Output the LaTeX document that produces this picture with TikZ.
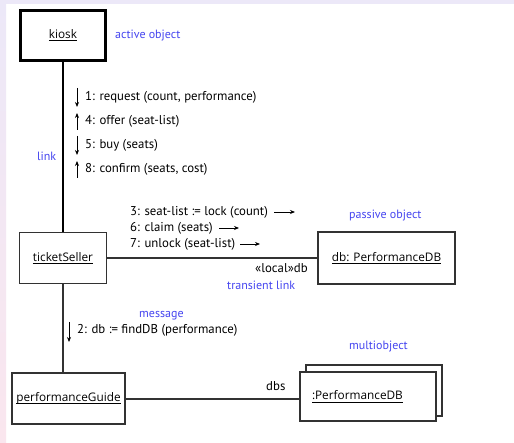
\documentclass[tikz,border=0pt]{standalone}
\usepackage{fontspec}
\setmainfont{PT Sans}
\newfontfamily\objfont{Open Sans}
\usetikzlibrary{arrows.meta}
\definecolor{lav}{RGB}{236,232,248}
\definecolor{pinkbg}{RGB}{250,230,238}
\definecolor{note}{RGB}{70,70,240}
\definecolor{linec}{RGB}{50,50,50}
\newcommand{\ulx}[1]{\setbox0\hbox{#1}\rlap{\rule[-2.8pt]{\wd0}{0.9pt}}\box0}
\begin{document}
\begin{tikzpicture}[x=1pt,y=-1pt,
  obj/.style={draw=linec, line width=1.3pt, fill=white, rectangle, inner sep=0pt, font=\objfont\fontsize{11.8}{13}\selectfont},
  lnk/.style={draw=linec, line width=1.1pt},
  msg/.style={inner sep=0pt, anchor=west, font=\fontsize{12.8}{14}\selectfont},
  notetxt/.style={inner sep=0pt, anchor=west, text=note, font=\fontsize{12}{14}\selectfont},
  arr/.style={draw=black, line width=0.8pt, -{Stealth[length=5pt,width=4pt]}}
]
\useasboundingbox (0,0) rectangle (514,443);
\fill[white] (0,0) rectangle (514,443);
\fill[lav] (0,0) rectangle (514,4);
\shade[top color=lav, bottom color=pinkbg] (0,0) rectangle (6,443);

% objects
\node[obj, draw=black, line width=3.3pt, minimum width=85pt, minimum height=50pt] (kiosk) at (63,35.5) {\ulx{kiosk}};
\node[obj, minimum width=87pt, minimum height=51pt] (ts) at (63,258) {\ulx{ticketSeller}};
\node[obj, minimum width=137pt, minimum height=52pt] (db) at (386.5,258) {\ulx{db: PerformanceDB}};
\node[obj, minimum width=113pt, minimum height=51pt] (pg) at (68.5,398.5) {\ulx{performanceGuide}};
\node[obj, minimum width=136pt, minimum height=51pt] (mback) at (374,390.5) {};
\node[obj, minimum width=136pt, minimum height=49pt] (mdb) at (368,396.5) {\makebox[112pt][l]{\ulx{:PerformanceDB}}};

% links
\draw[draw=black, line width=2.7pt] (kiosk.south) -- (ts.north);
\draw[lnk] (ts.east) -- (db.west);
\draw[lnk] (ts.south) -- (ts.south |- pg.north);
\draw[lnk] (pg.east |- 0,399) -- (mdb.west |- 0,399);

% messages kiosk-ticketSeller
\node[msg] (m1) at (85,97) {1: request (count, performance)};
\node[msg] (m4) at (85,121) {4: offer (seat-list)};
\node[msg] (m5) at (85,145) {5: buy (seats)};
\node[msg] (m8) at (85,169) {8: confirm (seats, cost)};
\draw[arr] ([xshift=-8pt,yshift=9pt]m1.west) -- ([xshift=-8pt,yshift=-10pt]m1.west);
\draw[arr] ([xshift=-8pt,yshift=-9pt]m4.west) -- ([xshift=-8pt,yshift=8pt]m4.west);
\draw[arr] ([xshift=-8pt,yshift=9pt]m5.west) -- ([xshift=-8pt,yshift=-10pt]m5.west);
\draw[arr] ([xshift=-8pt,yshift=-9pt]m8.west) -- ([xshift=-8pt,yshift=8pt]m8.west);

% messages ticketSeller-db
\node[msg] (m3) at (130,212) {3: seat-list := lock (count)};
\node[msg] (m6) at (130,228) {6: claim (seats)};
\node[msg] (m7) at (130,244) {7: unlock (seat-list)};
\draw[arr] ([xshift=144pt]m3.west) -- ([xshift=165pt]m3.west);
\draw[arr] ([xshift=89pt]m6.west) -- ([xshift=109pt]m6.west);
\draw[arr] ([xshift=110pt]m7.west) -- ([xshift=130pt]m7.west);

% message 2
\node[msg] (m2) at (77,330) {2: db := findDB (performance)};
\draw[arr] ([xshift=-8pt,yshift=8pt]m2.west) -- ([xshift=-8pt,yshift=-12pt]m2.west);

% role names
\node[msg] (loc) at (255,268) {«local»db};
\node[msg] (dbs) at (266,386) {dbs};

% notes
\node[notetxt] (n1) at (115,36) {active object};
\node[notetxt] (n2) at (37,156) {link};
\node[notetxt] (n3) at (349,216) {passive object};
\node[notetxt] (n4) at (227,285) {transient link};
\node[notetxt] (n5) at (139,316) {message};
\node[notetxt] (n6) at (349,347) {multiobject};
\end{tikzpicture}
\end{document}
